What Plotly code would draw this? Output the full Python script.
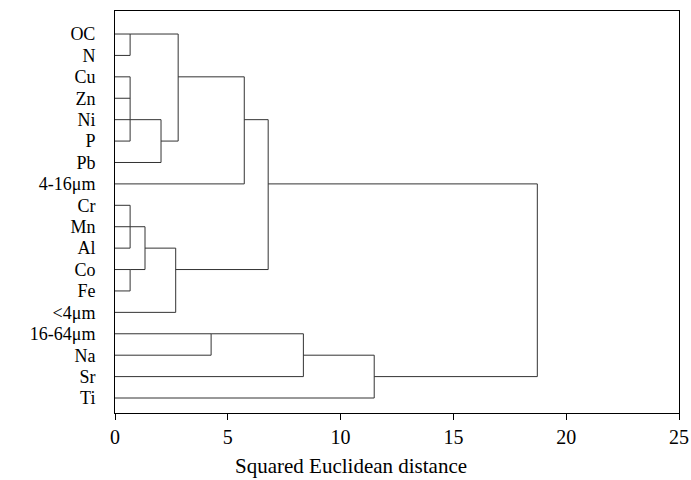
import plotly.graph_objects as go

# ---- data ----
leaves = ["OC", "N", "Cu", "Zn", "Ni", "P", "Pb", "4-16μm", "Cr", "Mn", "Al",
          "Co", "Fe", "<4μm", "16-64μm", "Na", "Sr", "Ti"]

merge_ids = ["A", "B", "C", "D", "E", "F", "G", "H", "I", "J", "K", "L", "M", "Z"]
merge_children = [
    ["OC", "N"],
    ["Cu", "Zn", "Ni", "P"],
    ["B", "Pb"],
    ["A", "C"],
    ["D", "4-16μm"],
    ["Cr", "Mn", "Al"],
    ["Co", "Fe"],
    ["F", "G"],
    ["H", "<4μm"],
    ["E", "I"],
    ["16-64μm", "Na"],
    ["K", "Sr"],
    ["L", "Ti"],
    ["J", "M"],
]
merge_dist = [0.67, 0.67, 2.04, 2.80, 5.73, 0.67, 0.67, 1.33, 2.69, 6.79, 4.26, 8.35, 11.49, 18.72]
# leaf row on which the merged cluster's outgoing line is drawn
merge_out = ["OC", "Ni", "P", "Cu", "Ni", "Mn", "Co", "Al", "Co", "4-16μm",
             "16-64μm", "Na", "Sr", None]

x_ticks = [0, 5, 10, 15, 20, 25]
x_title = "Squared Euclidean distance"

# ---- build dendrogram segments ----
row = {name: i for i, name in enumerate(leaves)}
height = {name: 0.0 for name in leaves}
xs, ys = [], []
for mid, ch, d, out in zip(merge_ids, merge_children, merge_dist, merge_out):
    rows = [row[c] for c in ch]
    for c in ch:
        xs += [height[c], d, None]
        ys += [row[c], row[c], None]
    xs += [d, d, None]
    ys += [min(rows), max(rows), None]
    height[mid] = d
    row[mid] = row[out] if out is not None else sum(rows) / len(rows)

FONT = "Liberation Serif"
FS = 20

fig = go.Figure()
fig.add_trace(go.Scatter(x=xs, y=ys, mode="lines",
                         line=dict(color="#333333", width=1),
                         hoverinfo="skip", showlegend=False, cliponaxis=False))

fig.update_layout(
    width=691, height=480,
    margin=dict(l=115, r=12, t=11, b=67),
    paper_bgcolor="white", plot_bgcolor="white",
    font=dict(family=FONT, size=FS, color="black"),
    xaxis=dict(range=[0, 25], tickvals=x_ticks, ticktext=[str(v) for v in x_ticks],
               showgrid=False, zeroline=False, showline=True, mirror=True,
               linecolor="black", linewidth=1, ticks="outside", ticklen=6,
               tickcolor="black", automargin=False,
               tickfont=dict(family=FONT, size=FS, color="black")),
    yaxis=dict(range=[17.70, -1.075], tickvals=list(range(len(leaves))),
               ticktext=leaves, showgrid=False, zeroline=False, showline=True,
               mirror=True, linecolor="black", linewidth=1, ticks="outside",
               ticklen=15, tickcolor="rgba(0,0,0,0)", automargin=False,
               tickfont=dict(family=FONT, size=18, color="black")),
    annotations=[dict(text=x_title, xref="paper", yref="paper", x=0.418, y=-0.132,
                      xanchor="center", yanchor="middle", showarrow=False,
                      font=dict(family=FONT, size=21, color="black"))],
)

fig.write_html("out.html")
